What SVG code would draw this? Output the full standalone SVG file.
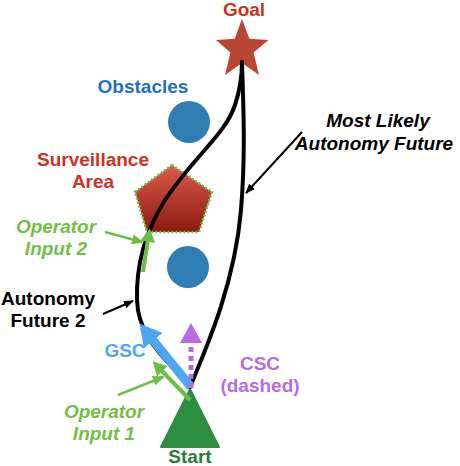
<svg xmlns="http://www.w3.org/2000/svg" width="460" height="466" viewBox="0 0 460 466">
<defs>
<style>
text{font-family:"Liberation Sans",Arial,sans-serif;font-weight:bold;font-size:19px;text-anchor:middle}
.it{font-style:italic}
.red{fill:#cc3320}
.blue{fill:#1f6fc5}
.grn{fill:#72c043}
.blk{fill:#000}
.path{fill:none;stroke:#000;stroke-width:4;stroke-linecap:round}
.thin{fill:none;stroke:#000;stroke-width:2}
.thing{fill:none;stroke:#6cbf45;stroke-width:2.5}
.obst{fill:#2e7db5}
</style>
<linearGradient id="pg" x1="0" y1="0" x2="0" y2="1">
<stop offset="0" stop-color="#de5a4c"/>
<stop offset="1" stop-color="#8c1a10"/>
</linearGradient>
<marker id="ab" viewBox="0 0 10 10" markerWidth="10" markerHeight="10" refX="9" refY="5" orient="auto" markerUnits="userSpaceOnUse"><path d="M0,1 L10,5 L0,9 z" fill="#000"/></marker>
<marker id="ag" viewBox="0 0 12 12" markerWidth="12" markerHeight="12" refX="10" refY="6" orient="auto" markerUnits="userSpaceOnUse"><path d="M0,1 L12,6 L0,11 z" fill="#6cbf45"/></marker>
<marker id="agb" viewBox="0 0 14 15" markerWidth="14" markerHeight="15" refX="2" refY="7.5" orient="auto" markerUnits="userSpaceOnUse"><path d="M0,0 L14,7.5 L0,15 z" fill="#6cbf45"/></marker>
<marker id="abl" viewBox="0 0 22 24" markerWidth="22" markerHeight="24" refX="2" refY="12" orient="auto" markerUnits="userSpaceOnUse"><path d="M0,0 L22,12 L0,24 z" fill="#4da6f2"/></marker>
<marker id="apu" viewBox="0 0 20 22" markerWidth="20" markerHeight="22" refX="1" refY="11" orient="auto" markerUnits="userSpaceOnUse"><path d="M0,0 L20,11 L0,22 z" fill="#b86ae2"/></marker>
</defs>
<rect width="460" height="466" fill="#fff"/>

<g id="goal">
<polygon points="242,19 249.3,38.8 268.5,40 253.6,52.5 259,75 242,63 225,75 230.4,52.5 216,40 234.7,38.8" fill="#b94633"/>
<text x="244" y="16" class="red">Goal</text>
</g>

<g id="obstacles">
<text x="143" y="93" class="blue">Obstacles</text>
<circle cx="189" cy="122" r="21" class="obst"/>
<circle cx="188" cy="267" r="21" class="obst"/>
</g>

<g id="surveillance">
<polygon points="172,165 212,192 199,232 147,232 135,192" fill="url(#pg)" stroke="#6cbf45" stroke-width="2.5" stroke-dasharray="2 2"/>
<text x="93" y="166" class="red">Surveillance</text>
<text x="93" y="188" class="red">Area</text>
</g>

<g id="start">
<polygon points="190,389 219,447 161,447" fill="#2e8e40" stroke="#2e8e40" stroke-width="2" stroke-linejoin="round"/>
<text x="190" y="463" fill="#2a7d3a">Start</text>
</g>

<g id="connectors">
<path class="path" d="M190,387 C170,362 138,340 137,300 C136,265 145,232 165,200 C195,155 225,135 235,105 C240,90 242,75 242,62"/>
<path class="path" d="M190,387 C210,340 235,280 241,210 C246,150 243,100 242,62"/>
<line x1="302" y1="132" x2="246" y2="193" class="thin" marker-end="url(#ab)"/>
<line x1="103" y1="314" x2="133" y2="301" class="thin" marker-end="url(#ab)"/>
<line x1="105" y1="232" x2="142" y2="242" class="thing" marker-end="url(#ag)"/>
<line x1="118" y1="395" x2="163" y2="377" class="thing" marker-end="url(#ag)"/>
<line x1="143" y1="272" x2="148" y2="240" stroke="#6cbf45" stroke-width="4" marker-end="url(#agb)"/>
<line x1="191" y1="387" x2="152" y2="339" stroke="#4da6f2" stroke-width="9" marker-end="url(#abl)"/>
<line x1="190" y1="400" x2="161" y2="370" stroke="#6cbf45" stroke-width="4" marker-end="url(#agb)"/>
<line x1="191" y1="388" x2="191" y2="342" stroke="#b86ae2" stroke-width="5" stroke-dasharray="5 4" marker-end="url(#apu)"/>
</g>

<g id="labels">
<text x="378" y="127" class="it blk">Most Likely</text>
<text x="374" y="150" class="it blk">Autonomy Future</text>
<text x="56" y="233" class="it grn">Operator</text>
<text x="56" y="255" class="it grn">Input 2</text>
<text x="48" y="305" class="blk">Autonomy</text>
<text x="48" y="327" class="blk">Future 2</text>
<text x="125" y="357" fill="#4da6f2">GSC</text>
<text x="260" y="370" fill="#b86ae2">CSC</text>
<text x="260" y="392" fill="#b86ae2">(dashed)</text>
<text x="104" y="418" class="it grn">Operator</text>
<text x="104" y="440" class="it grn">Input 1</text>
</g>
</svg>
